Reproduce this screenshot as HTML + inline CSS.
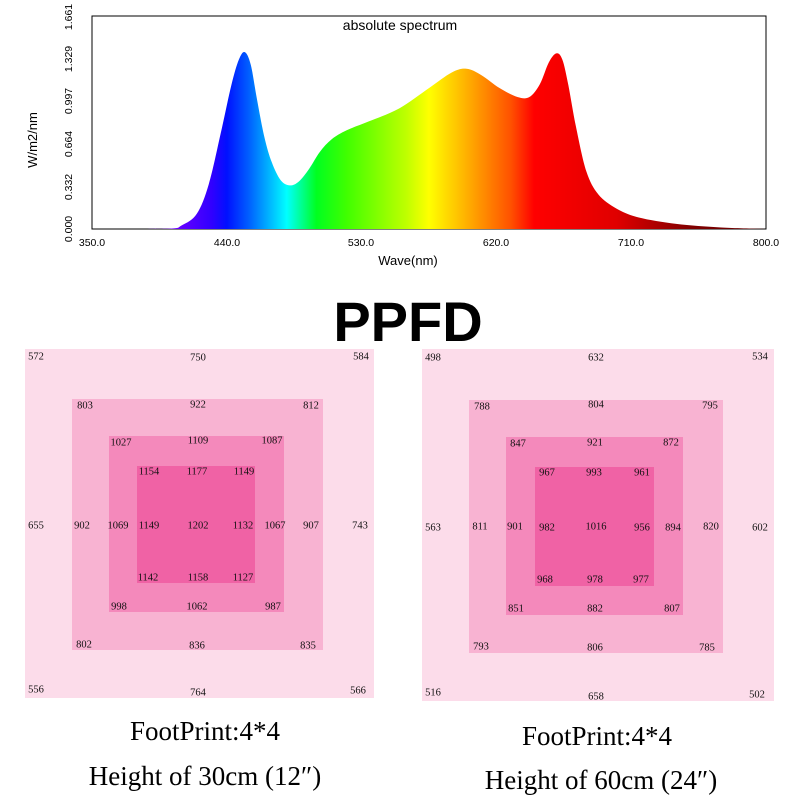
<!DOCTYPE html>
<html><head><style>
body{margin:0;width:800px;height:800px;background:#fff;position:relative;overflow:hidden;font-family:"Liberation Serif",serif}
.a{position:absolute}
.sq{position:absolute}
.n{position:absolute;font-size:10.5px;transform:translate(-50%,-50%);color:#111;font-family:"Liberation Serif",serif}
.cap{position:absolute;font-size:27px;transform:translateX(-50%);white-space:nowrap}
</style></head><body>
<svg class="a" style="left:0;top:0" width="800" height="280">
<defs><linearGradient id="g" x1="92" x2="766" y1="0" y2="0" gradientUnits="userSpaceOnUse">
<stop offset="0.111" stop-color="#7a00ff"/>
<stop offset="0.178" stop-color="#3000ff"/>
<stop offset="0.2" stop-color="#0010ff"/>
<stop offset="0.233" stop-color="#0060ff"/>
<stop offset="0.267" stop-color="#00c0ff"/>
<stop offset="0.289" stop-color="#00ffff"/>
<stop offset="0.333" stop-color="#00ff20"/>
<stop offset="0.378" stop-color="#40ff00"/>
<stop offset="0.467" stop-color="#c0ff00"/>
<stop offset="0.5" stop-color="#ffff00"/>
<stop offset="0.556" stop-color="#ffb000"/>
<stop offset="0.622" stop-color="#ff5000"/>
<stop offset="0.656" stop-color="#ff0000"/>
<stop offset="0.778" stop-color="#e00000"/>
<stop offset="0.889" stop-color="#800000"/>
<stop offset="1" stop-color="#600000"/>
</linearGradient></defs>
<rect x="92" y="16" width="674" height="213" fill="#fff" stroke="#000" stroke-width="1"/>
<path id="sp" fill="url(#g)" d=""/>
<text x="400" y="30" font-family="Liberation Sans" font-size="14" text-anchor="middle">absolute spectrum</text>
<g font-family="Liberation Sans" font-size="10.5" text-anchor="middle">
<text x="92" y="246">350.0</text><text x="227" y="246">440.0</text><text x="361" y="246">530.0</text><text x="496" y="246">620.0</text><text x="631" y="246">710.0</text><text x="766" y="246">800.0</text>
</g>
<g font-family="Liberation Sans" font-size="10.5" text-anchor="middle">
<text transform="translate(72,229) rotate(-90)">0.000</text>
<text transform="translate(72,187) rotate(-90)">0.332</text>
<text transform="translate(72,144) rotate(-90)">0.664</text>
<text transform="translate(72,101) rotate(-90)">0.997</text>
<text transform="translate(72,59) rotate(-90)">1.329</text>
<text transform="translate(72,17) rotate(-90)">1.661</text>
</g>
<text transform="translate(37,140) rotate(-90)" font-family="Liberation Sans" font-size="13" text-anchor="middle">W/m2/nm</text>
<text x="408" y="265" font-family="Liberation Sans" font-size="13" text-anchor="middle">Wave(nm)</text>
</svg>
<script>
var p=[[350,0],[400,0.002],[410,0.03],[420,0.12],[428,0.35],[436,0.75],[443,1.12],[448,1.32],[452,1.38],[456,1.28],[460,1.02],[465,0.72],[470,0.52],[476,0.38],[482,0.34],[488,0.37],[495,0.47],[502,0.6],[510,0.7],[520,0.77],[535,0.84],[555,0.94],[575,1.1],[590,1.22],[600,1.25],[610,1.2],[622,1.1],[634,1.03],[642,1.03],[649,1.13],[655,1.3],[660,1.37],[664,1.32],[668,1.12],[673,0.8],[680,0.45],[688,0.27],[700,0.16],[715,0.09],[740,0.04],[770,0.012],[800,0]];
var P=p.map(function(q){return [92+(q[0]-350)*1.498,229-q[1]*128.2];});
var d="M92,229 L"+P[0][0]+","+P[0][1];
for(var i=0;i<P.length-1;i++){var a=P[Math.max(i-1,0)],b=P[i],c=P[i+1],e=P[Math.min(i+2,P.length-1)];
d+=" C"+(b[0]+(c[0]-a[0])/6).toFixed(1)+","+Math.min(229,b[1]+(c[1]-a[1])/6).toFixed(1)+" "+(c[0]-(e[0]-b[0])/6).toFixed(1)+","+Math.min(229,c[1]-(e[1]-b[1])/6).toFixed(1)+" "+c[0].toFixed(1)+","+c[1].toFixed(1);}
d+=" L766,229Z";
document.getElementById("sp").setAttribute("d",d);
</script>
<div class="a" style="left:0;width:816px;top:290px;text-align:center;font-family:'Liberation Sans',sans-serif;font-weight:bold;font-size:56px;line-height:64px">PPFD</div>

<div class="sq" style="left:25px;top:349px;width:349px;height:349px;background:#fcdcea"></div>
<div class="sq" style="left:72px;top:399px;width:251px;height:251px;background:#f8b3d2"></div>
<div class="sq" style="left:109px;top:436px;width:175px;height:176px;background:#f489bb"></div>
<div class="sq" style="left:137px;top:466px;width:118px;height:117px;background:#f062a5"></div>

<div class="sq" style="left:422px;top:349px;width:352px;height:352px;background:#fcdcea"></div>
<div class="sq" style="left:469px;top:400px;width:254px;height:253px;background:#f8b3d2"></div>
<div class="sq" style="left:506px;top:437px;width:177px;height:178px;background:#f489bb"></div>
<div class="sq" style="left:535px;top:467px;width:119px;height:119px;background:#f062a5"></div>

<div id="nums"></div>
<script>
var L=[[36,357,572],[198,358,750],[361,357,584],[85,406,803],[198,405,922],[311,406,812],[121,443,1027],[198,441,1109],[272,441,1087],[149,472,1154],[197,472,1177],[244,472,1149],[36,526,655],[82,526,902],[118,526,1069],[149,526,1149],[198,526,1202],[243,526,1132],[275,526,1067],[311,526,907],[360,526,743],[148,578,1142],[198,578,1158],[243,578,1127],[119,607,998],[197,607,1062],[273,607,987],[84,645,802],[197,646,836],[308,646,835],[36,690,556],[198,693,764],[358,691,566],
[433,358,498],[596,358,632],[760,357,534],[482,407,788],[596,405,804],[710,406,795],[518,444,847],[595,443,921],[671,443,872],[547,473,967],[594,473,993],[642,473,961],[433,528,563],[480,527,811],[515,527,901],[547,528,982],[596,527,1016],[642,528,956],[673,528,894],[711,527,820],[760,528,602],[545,580,968],[595,580,978],[641,580,977],[516,609,851],[595,609,882],[672,609,807],[481,647,793],[595,648,806],[707,648,785],[433,693,516],[596,697,658],[757,695,502]];
var h="";L.forEach(function(q){h+='<div class="n" style="left:'+q[0]+'px;top:'+q[1]+'px">'+q[2]+'</div>';});
document.getElementById("nums").innerHTML=h;
</script>
<div class="cap" style="left:205px;top:716px">FootPrint:4*4</div>
<div class="cap" style="left:205px;top:761px">Height of 30cm (12″)</div>
<div class="cap" style="left:597px;top:721px">FootPrint:4*4</div>
<div class="cap" style="left:601px;top:765px">Height of 60cm (24″)</div>
</body></html>
